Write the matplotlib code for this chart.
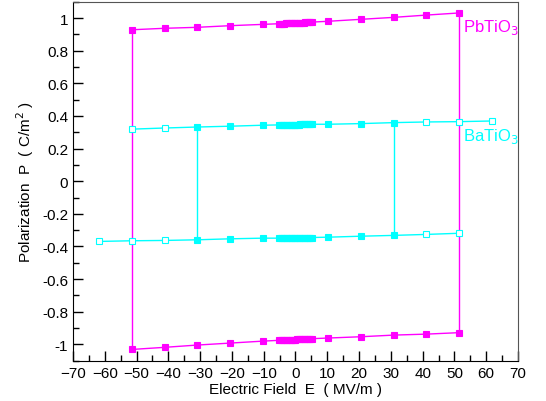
import numpy as np
import matplotlib
matplotlib.use('Agg')
import matplotlib.pyplot as plt
from matplotlib.ticker import MultipleLocator, FuncFormatter

plt.rcParams['font.family'] = ['Liberation Sans', 'DejaVu Sans']

# field values (MV/m) along the branches
E_outer = [-51.5, -41.2, -30.9, -20.6, -10.3]
E_dense = [-5.15, -4.64, -4.12, -3.61, -3.09, -2.58, -2.06, -1.55, -1.03, -0.52, 0.0,
           0.52, 1.03, 1.55, 2.06, 2.58, 3.09, 3.61, 4.12, 4.64, 5.15]
E_right = [10.3, 20.6, 30.9, 41.2, 51.5]

# PbTiO3 upper branch polarization (C/m^2)
pb_outer = [0.928, 0.937, 0.943, 0.953, 0.961]
pb_dense = [0.965, 0.965, 0.966, 0.966, 0.967, 0.967, 0.968, 0.968, 0.969, 0.969, 0.970,
            0.970, 0.971, 0.971, 0.972, 0.972, 0.973, 0.973, 0.974, 0.974, 0.975]
pb_right = [0.980, 0.992, 1.004, 1.018, 1.031]

# BaTiO3 upper branch polarization (C/m^2)
ba_E = [-51.5, -41.2, -30.9, -20.6, -10.3] + E_dense + [10.3, 20.6, 30.9, 41.2, 51.5, 61.8]
ba_P = [0.319, 0.326, 0.332, 0.337, 0.343,
        0.345, 0.345, 0.345, 0.346, 0.346, 0.346, 0.346, 0.346, 0.347, 0.347, 0.347,
        0.347, 0.347, 0.348, 0.348, 0.348, 0.348, 0.348, 0.349, 0.349, 0.349,
        0.349, 0.353, 0.359, 0.363, 0.365, 0.369]
ba_coercive = 30.9

pb_E = np.array(E_outer + E_dense + E_right)
pb_P = np.array(pb_outer + pb_dense + pb_right)
ba_E = np.array(ba_E)
ba_P = np.array(ba_P)

mag = '#ff00ff'
cya = '#00ffff'

fig = plt.figure(figsize=(5.46, 4.02), dpi=100)
ax = fig.add_axes([0.1337, 0.1002, 0.815, 0.8931])

# PbTiO3 loop
ax.plot(pb_E, pb_P, '-s', color=mag, lw=1, ms=4, mew=0.8)
ax.plot(-pb_E, -pb_P, '-s', color=mag, lw=1, ms=4, mew=0.8)
ax.plot([pb_E[0], pb_E[0]], [pb_P[0], -pb_P[-1]], color=mag, lw=1)
ax.plot([pb_E[-1], pb_E[-1]], [-pb_P[0], pb_P[-1]], color=mag, lw=1)

# BaTiO3 loop
ax.plot(ba_E, ba_P, '-', color=cya, lw=1)
ax.plot(-ba_E, -ba_P, '-', color=cya, lw=1)
inside = np.abs(ba_E) <= ba_coercive + 0.01
for sgn in (1, -1):
    ax.plot(sgn * ba_E[inside], sgn * ba_P[inside], 's', color=cya, ms=4, mew=0.8)
    ax.plot(sgn * ba_E[~inside], sgn * ba_P[~inside], 's', mfc='white', mec=cya,
            ms=4, mew=0.8)
i_neg = np.argmin(np.abs(ba_E + ba_coercive))
i_pos = np.argmin(np.abs(ba_E - ba_coercive))
ax.plot([-ba_coercive, -ba_coercive], [ba_P[i_neg], -ba_P[i_pos]], color=cya, lw=1)
ax.plot([ba_coercive, ba_coercive], [-ba_P[i_neg], ba_P[i_pos]], color=cya, lw=1)

ax.text(52.7, 0.95, 'PbTiO$_3$', color=mag, fontsize=12, ha='left', va='center')
ax.text(52.7, 0.28, 'BaTiO$_3$', color=cya, fontsize=12, ha='left', va='center')

ax.set_xlim(-70, 70)
ax.set_ylim(-1.1, 1.1)
ax.xaxis.set_major_locator(MultipleLocator(10))
ax.xaxis.set_minor_locator(MultipleLocator(5))
ax.yaxis.set_major_locator(MultipleLocator(0.2))
ax.yaxis.set_minor_locator(MultipleLocator(0.1))
ax.yaxis.set_major_formatter(FuncFormatter(lambda v, p: f'{round(v, 1):g}'))
ax.tick_params(which='both', direction='in', top=False, right=False, labelsize=11)
ax.tick_params(which='major', length=7, width=1)
ax.tick_params(which='minor', length=4, width=1)
for s in ('top', 'right'):
    ax.spines[s].set_color('#555555')

ax.set_xlabel('Electric Field  E  ( MV/m )', fontsize=11, labelpad=2)
ax.set_ylabel('Polarization  P  ( C/m$^2$ )', fontsize=11, labelpad=4)

fig.savefig('out.png', dpi=100)
